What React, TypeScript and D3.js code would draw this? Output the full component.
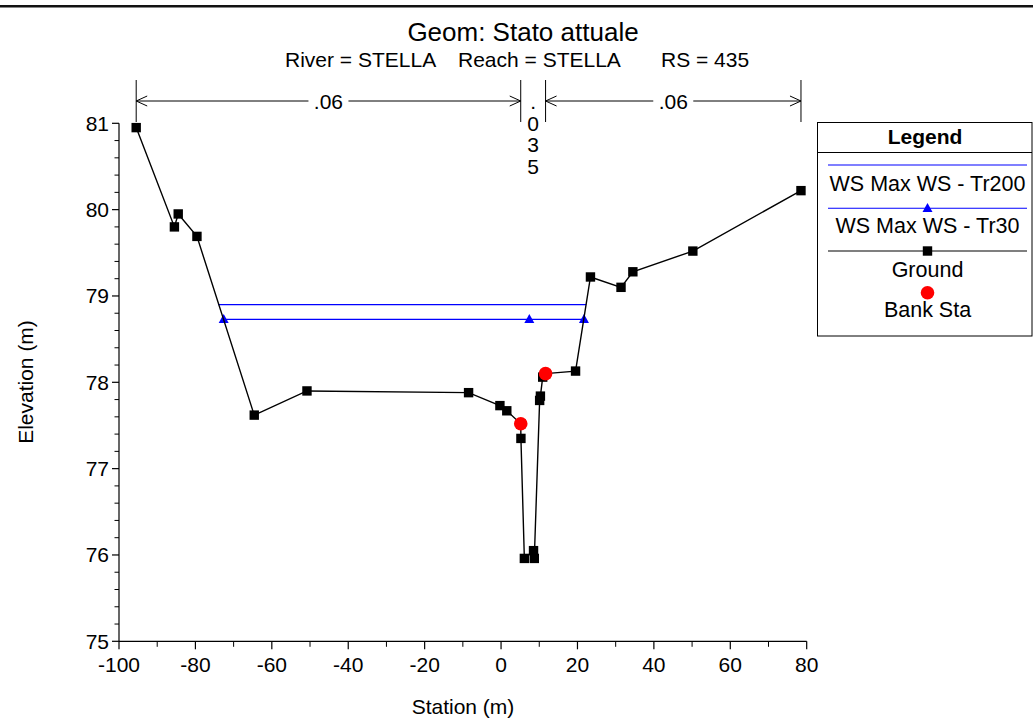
import React from "react";
import * as d3 from "d3";

// ---------- DATA ----------
const groundSta = [-95.5, -85.5, -84.5, -79.6, -64.6, -50.8, -8.5, -0.3, 1.5, 5.15, 5.2, 6.1, 8.5, 8.7, 10.1, 10.3, 10.9, 11.65, 19.5, 23.4, 31.4, 34.5, 50.2, 78.5];
const groundElev = [80.95, 79.8, 79.95, 79.69, 77.62, 77.9, 77.88, 77.73, 77.67, 77.52, 77.35, 75.96, 76.05, 75.96, 77.79, 77.84, 78.06, 78.1, 78.13, 79.22, 79.1, 79.28, 79.52, 80.22];
const bankSta = [5.15, 11.65];
const bankElev = [77.52, 78.1];
const ws200Sta = [-74.0, 22.3];
const ws200Elev = [78.9, 78.9];
const ws30Sta = [-72.6, 7.4, 21.7];
const ws30Elev = [78.73, 78.73, 78.73];
const manningSta = [-95.5, 5.15, 11.65, 78.5];
const manningN = [".06", ".035", ".06"];
const xTickValues = [-100, -80, -60, -40, -20, 0, 20, 40, 60, 80];
const xMinorValues = [-90, -70, -50, -30, -10, 10, 30, 50, 70];
const yTickValues = [75, 76, 77, 78, 79, 80, 81];
const titleText = "Geom: Stato attuale";
const subtitleParts = ["River = STELLA", "Reach = STELLA", "RS = 435"];
const legendLabels = ["WS Max WS - Tr200", "WS Max WS - Tr30", "Ground", "Bank Sta"];
const xLabel = "Station (m)";
const yLabel = "Elevation (m)";

const FONT = "'Liberation Sans', Arial, sans-serif";

export default function App() {
  const W = 1033, H = 720;
  const x = d3.scaleLinear().domain([-100, 80]).range([119, 806.7]);
  const y = d3.scaleLinear().domain([75, 81]).range([641.3, 123.3]);

  const line = d3.line<[number, number]>().x(d => x(d[0])).y(d => y(d[1]));
  const ground: [number, number][] = groundSta.map((s, i) => [s, groundElev[i]]);
  const ws200: [number, number][] = ws200Sta.map((s, i) => [s, ws200Elev[i]]);
  const ws30: [number, number][] = ws30Sta.map((s, i) => [s, ws30Elev[i]]);

  const yMinor: number[] = [];
  for (let v = 75; v < 81 - 1e-9; v += 0.2) {
    const r = Math.round(v * 10) / 10;
    if (Math.abs(r - Math.round(r)) > 1e-6) yMinor.push(r);
  }

  const tri = (cx: number, cy: number) =>
    `M${cx - 5},${cy + 3.8} L${cx + 5},${cy + 3.8} L${cx},${cy - 5.2} Z`;

  const arrowY = 101;
  const chevron = (tx: number, dir: number) =>
    `M${tx + dir * 11},${arrowY - 5} L${tx},${arrowY} L${tx + dir * 11},${arrowY + 5}`;

  const subX = [285, 458, 661];
  const SQ = 9.4;

  const lgX0 = 828, lgX1 = 1027, lgC = (lgX0 + lgX1) / 2;

  return (
    <div style={{ position: "absolute", left: 0, top: 0 }}>
      <svg width={W} height={H} style={{ display: "block", background: "#fff" }} fontFamily={FONT}>
        <rect x={0} y={0} width={W} height={H} fill="#fff" />
        <rect x={0} y={5} width={W} height={2.5} fill="#111" />

        {/* Title */}
        <text x={523} y={41} fontSize={26} textAnchor="middle">{titleText}</text>
        {subtitleParts.map((t, i) => (
          <text key={t} x={subX[i]} y={67} fontSize={21}>{t}</text>
        ))}

        {/* Manning n */}
        {manningSta.map((s, i) => (
          <line key={"mv" + i} x1={x(s)} x2={x(s)} y1={80} y2={122} stroke="#000" strokeWidth={1} />
        ))}
        {manningN.map((n, i) => {
          const a = x(manningSta[i]), b = x(manningSta[i + 1]);
          const c = (a + b) / 2;
          if (b - a > 60) {
            const gap = 20;
            return (
              <g key={"mn" + i}>
                <line x1={a} x2={c - gap} y1={arrowY} y2={arrowY} stroke="#000" strokeWidth={1} />
                <line x1={c + gap} x2={b} y1={arrowY} y2={arrowY} stroke="#000" strokeWidth={1} />
                <path d={chevron(a, 1)} fill="none" stroke="#000" strokeWidth={1} />
                <path d={chevron(b, -1)} fill="none" stroke="#000" strokeWidth={1} />
                <text x={c} y={arrowY + 7.5} fontSize={21} textAnchor="middle">{n}</text>
              </g>
            );
          }
          const chars = n.split("");
          return (
            <g key={"mn" + i}>
              {chars.map((ch, k) => (
                <text key={k} x={c} y={109 + k * 21.5} fontSize={21} textAnchor="middle">{ch}</text>
              ))}
            </g>
          );
        })}

        {/* Axes */}
        <line x1={x(-100)} x2={x(80)} y1={y(75)} y2={y(75)} stroke="#000" strokeWidth={1.2} />
        <line x1={x(-100)} x2={x(-100)} y1={y(75)} y2={y(81)} stroke="#000" strokeWidth={1.2} />
        {xTickValues.map(v => (
          <g key={"xt" + v}>
            <line x1={x(v)} x2={x(v)} y1={y(75)} y2={y(75) + 8} stroke="#000" strokeWidth={1.2} />
            <text x={x(v)} y={672} fontSize={21} textAnchor="middle">{v}</text>
          </g>
        ))}
        {xMinorValues.map(v => (
          <line key={"xm" + v} x1={x(v)} x2={x(v)} y1={y(75)} y2={y(75) + 5.5} stroke="#000" strokeWidth={1} />
        ))}
        {yTickValues.map(v => (
          <g key={"yt" + v}>
            <line x1={x(-100) - 7} x2={x(-100)} y1={y(v)} y2={y(v)} stroke="#000" strokeWidth={1.2} />
            <text x={109} y={y(v) + 7.5} fontSize={21} textAnchor="end">{v}</text>
          </g>
        ))}
        {yMinor.map(v => (
          <line key={"ym" + v} x1={x(-100) - 4.5} x2={x(-100)} y1={y(v)} y2={y(v)} stroke="#000" strokeWidth={1} />
        ))}
        <text x={463} y={714} fontSize={21} textAnchor="middle">{xLabel}</text>
        <text transform={`translate(33,382) rotate(-90)`} fontSize={21} textAnchor="middle">{yLabel}</text>

        {/* Water surfaces */}
        <path d={line(ws200) || ""} fill="none" stroke="#0000ff" strokeWidth={1.3} />
        <path d={line(ws30) || ""} fill="none" stroke="#0000ff" strokeWidth={1.3} />
        {ws30.map((d, i) => (
          <path key={"tr" + i} d={tri(x(d[0]), y(d[1]))} fill="#0000ff" />
        ))}

        {/* Ground */}
        <path d={line(ground) || ""} fill="none" stroke="#000" strokeWidth={1.4} />
        {ground.map((d, i) => (
          <rect key={"g" + i} x={x(d[0]) - SQ / 2} y={y(d[1]) - SQ / 2} width={SQ} height={SQ} fill="#000" />
        ))}

        {/* Bank stations */}
        {bankSta.map((s, i) => (
          <circle key={"b" + i} cx={x(s)} cy={y(bankElev[i])} r={6.8} fill="#ff0000" />
        ))}

        {/* Legend */}
        <rect x={817.5} y={122.5} width={214.5} height={213.5} fill="#fff" stroke="#000" strokeWidth={1} />
        <line x1={817.5} x2={1032} y1={152.5} y2={152.5} stroke="#000" strokeWidth={1} />
        <text x={925} y={143.5} fontSize={21} fontWeight="bold" textAnchor="middle">Legend</text>

        <line x1={lgX0} x2={lgX1} y1={165} y2={165} stroke="#0000ff" strokeWidth={1.1} />
        <text x={lgC} y={190.5} fontSize={21.5} textAnchor="middle">{legendLabels[0]}</text>

        <line x1={lgX0} x2={lgX1} y1={208.3} y2={208.3} stroke="#0000ff" strokeWidth={1.1} />
        <path d={tri(lgC, 208.3)} fill="#0000ff" />
        <text x={lgC} y={233.3} fontSize={21.5} textAnchor="middle">{legendLabels[1]}</text>

        <line x1={lgX0} x2={lgX1} y1={251} y2={251} stroke="#000" strokeWidth={1.1} />
        <rect x={lgC - SQ / 2} y={251 - SQ / 2} width={SQ} height={SQ} fill="#000" />
        <text x={lgC} y={276.7} fontSize={21.5} textAnchor="middle">{legendLabels[2]}</text>

        <circle cx={lgC} cy={292.7} r={6.8} fill="#ff0000" />
        <text x={lgC} y={317} fontSize={21.5} textAnchor="middle">{legendLabels[3]}</text>
      </svg>
    </div>
  );
}
